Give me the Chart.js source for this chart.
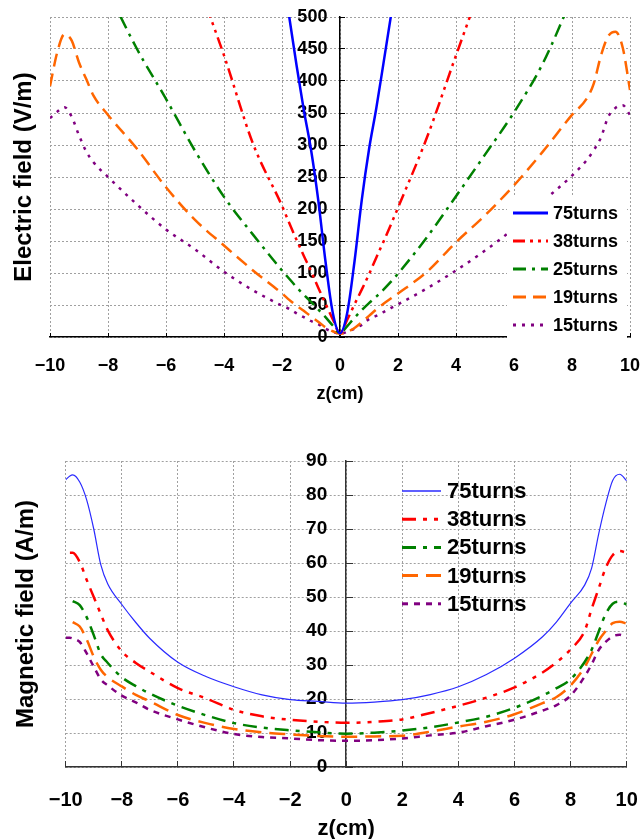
<!DOCTYPE html>
<html>
<head>
<meta charset="utf-8">
<script src="https://cdn.jsdelivr.net/npm/chart.js@4.4.1/dist/chart.umd.min.js"></script>
<style>
  body { margin: 0; background: #fff; overflow: hidden; }
  canvas { position: absolute; left: 0; }
  #eChart { top: 0; }
  #bChart { top: 418px; }
</style>
</head>
<body>
<canvas id="eChart" width="641" height="420"></canvas>
<canvas id="bChart" width="641" height="422"></canvas>
<script>
const seriesLabels = ['75turns', '38turns', '25turns', '19turns', '15turns'];

// electric field, z in cm
const zE = [-10, -9.75, -9.5, -9.25, -9, -8.75, -8.5, -8, -7, -6, -5, -4, -3, -2, -1.75, -1.5, -1.25, -1, -0.75, -0.5, -0.25,
  0, 0.25, 0.5, 0.75, 1, 1.25, 1.5, 1.75, 2, 3, 4, 5, 6, 7, 8, 8.5, 8.75, 9, 9.25, 9.5, 9.75, 10];
const e75 = [null, null, null, null, null, null, null, null, null, null, null, null, null, 572, 500, 425, 355, 293, 214, 118, 38,
  6, 38, 118, 214, 293, 357, 428, 500, 572, null, null, null, null, null, null, null, null, null, null, null, null, null];
const e38 = [null, null, null, null, null, null, null, null, null, null, 565, 440, 302, 205, 178, 152, 127, 103, 77, 52, 28,
  6, 27, 51, 74, 98, 124, 149, 175, 202, 312, 440, 566, null, null, null, null, null, null, null, null, null, null];
const e25 = [null, null, null, null, null, null, null, 540, 450, 372, 291, 219, 160, 104, 91, 78, 66, 55, 43, 31, 18,
  6, 17, 30, 42, 53, 63, 74, 86, 99, 156, 220, 285, 351, 428, 530, null, null, null, null, null, null, null];
const e19 = [392, 445, 473, 463, 429, 403, 377, 347, 294, 234, 183, 143, 104, 68, 58, 49, 41, 32, 24, 15, 9,
  5, 8, 14, 23, 33, 43, 52, 60, 68, 102, 148, 190, 237, 290, 347, 372, 396, 440, 470, 477, 452, 386];
const e15 = [342, 352, 359, 344, 315, 290, 273, 250, 207, 168, 137, 102, 73, 49, 44, 37, 31, 25, 20, 13, 8,
  5, 8, 13, 19, 28, 33, 39, 45, 51, 76, 104, 135, 170, 212, 252, 276, 292, 312, 344, 358, 362, 347];

// magnetic field, z in cm
const zB = [-10, -9.85, -9.75, -9.5, -9.25, -9, -8.75, -8.5, -8, -7.5, -7, -6, -5, -4, -3, -2, -1,
  0, 1, 2, 3, 4, 5, 6, 7, 7.5, 8, 8.5, 8.75, 9, 9.25, 9.5, 9.75, 10];
const b75 = [84.5, 85.6, 85.9, 83.8, 78.5, 70, 59.5, 53.8, 47.8, 42.5, 37.8, 30.8, 26.6, 23.6, 21.2, 19.8, 19.3,
  18.8, 19.1, 19.8, 21.3, 23.6, 27.2, 32.0, 38.3, 42.7, 48.2, 53.5, 58.5, 68.5, 77.3, 84.3, 86.1, 84.2];
const b38 = [null, 63, 63, 60.3, 55, 50, 45, 40.2, 34, 30.6, 28, 23.2, 20.2, 16.8, 14.9, 13.9, 13.3,
  13.0, 13.3, 14.0, 15.9, 18.0, 20.4, 23.4, 27.8, 30.8, 34.6, 40, 46.5, 52.5, 58.5, 62.3, 63.5, 63];
const b25 = [null, null, 48.8, 47.6, 44, 38.8, 33.2, 30.6, 26.4, 23.8, 21.6, 18.0, 15.2, 12.9, 11.6, 10.8, 10.2,
  9.8, 10.1, 10.7, 11.7, 13.1, 14.8, 17.4, 21.0, 23.2, 25.8, 30.9, 34.5, 39.8, 45, 48, 48.6, 47.8];
const b19 = [null, null, 42.6, 41.3, 37.5, 32.4, 28.6, 26.4, 23.7, 21.2, 19.3, 15.3, 12.9, 11.2, 10.2, 9.6, 9.1,
  8.9, 9.0, 9.2, 10.4, 11.9, 13.3, 15.5, 18.8, 20.6, 24.0, 29.4, 33.3, 37.2, 40.0, 42.3, 42.7, 42.2];
const b15 = [38, 38, 37.8, 36.8, 33.4, 29.5, 25.8, 24, 21, 19, 16.8, 14.0, 11.6, 9.7, 8.8, 8.4, 7.9,
  7.7, 7.9, 8.4, 9.3, 10.1, 12.0, 13.9, 16.6, 18.2, 21.0, 26.6, 30.2, 34.4, 36.8, 38.4, 38.9, 38];

const FONT = '"Liberation Sans", Arial, sans-serif';
const GRID = '#a0a0a0';

function pts(zs, vals) {
    return zs.map((z, i) => ({ x: z, y: vals[i] }));
}

function minusSign(value) {
    return String(value).replace('-', '\u2212');
}

// legend drawn over the plot with a white box, like the original
const boxLegend = {
    id: 'boxLegend',
    afterDraw(chart, args, opts) {
        const ctx = chart.ctx;
        ctx.save();
        ctx.fillStyle = '#fff';
        ctx.fillRect(opts.x, opts.y, opts.w, opts.h);
        ctx.font = 'bold ' + opts.size + 'px ' + FONT;
        ctx.textBaseline = 'middle';
        chart.data.datasets.forEach((ds, i) => {
            const y = opts.top + i * opts.gap;
            ctx.strokeStyle = ds.borderColor;
            ctx.lineWidth = ds.borderWidth + 0.5;
            ctx.setLineDash(ds.borderDash || []);
            ctx.beginPath();
            ctx.moveTo(opts.lineX, y);
            ctx.lineTo(opts.lineX + opts.lineW, y);
            ctx.stroke();
            ctx.setLineDash([]);
            ctx.fillStyle = '#000';
            ctx.fillText(ds.label, opts.textX, y + 1);
        });
        ctx.restore();
    }
};

function lineSet(label, data, color, width, dash) {
    return {
        label: label,
        data: data,
        borderColor: color,
        borderWidth: width,
        borderDash: dash,
        pointRadius: 0,
        fill: false,
        cubicInterpolationMode: 'monotone'
    };
}

function makeOptions(cfg) {
    return {
        responsive: false,
        animation: false,
        layout: { padding: cfg.padding },
        plugins: {
            legend: { display: false },
            tooltip: { enabled: false },
            boxLegend: cfg.legend
        },
        scales: {
            x: {
                type: 'linear',
                position: 'bottom',
                min: -10,
                max: 10,
                afterFit: function(scale) {
                    scale.paddingLeft = 0;
                    scale.paddingRight = 0;
                    scale.height = cfg.xAxisH;
                },
                ticks: {
                    stepSize: 2,
                    color: '#000',
                    padding: cfg.xTickPad,
                    font: { family: FONT, size: cfg.xTickSize, weight: 'bold' },
                    callback: minusSign
                },
                grid: { color: GRID, tickColor: cfg.axisColor, tickLength: cfg.xTickLen },
                border: { color: cfg.axisColor, width: 1.5, dash: [2, 2] },
                title: {
                    display: true,
                    text: 'z(cm)',
                    color: '#000',
                    font: { family: FONT, size: cfg.xTitleSize, weight: 'bold', lineHeight: cfg.xTitleLH },
                    padding: { top: 0, bottom: cfg.xTitlePadB }
                }
            },
            y: {
                type: 'linear',
                position: { x: 0 },
                min: 0,
                max: cfg.yMax,
                afterFit: function(scale) {
                    scale.paddingTop = 0;
                    scale.paddingBottom = 0;
                },
                ticks: {
                    stepSize: cfg.yStep,
                    color: '#000',
                    font: { family: FONT, size: cfg.yTickSize, weight: 'bold' },
                    callback: function(value) {
                        return value + cfg.yGap;   // keeps the label clear of the axis line
                    }
                },
                grid: { color: GRID, tickColor: cfg.axisColor, tickLength: cfg.yTickLen },
                border: { color: cfg.axisColor, width: 1.5, dash: [2, 2] }
            },
            yt: {
                axis: 'y',
                type: 'linear',
                position: 'left',
                ticks: { display: false },
                grid: { display: false, drawTicks: false },
                border: { display: false },
                title: {
                    display: true,
                    text: cfg.yTitle,
                    color: '#000',
                    font: { family: FONT, size: 24, weight: 'bold' },
                    padding: cfg.yTitlePad
                }
            }
        }
    };
}

new Chart(document.getElementById('eChart'), {
    type: 'line',
    data: {
        datasets: [
            lineSet(seriesLabels[0], pts(zE, e75), '#0000ff', 2.5, []),
            lineSet(seriesLabels[1], pts(zE, e38), '#ff0000', 2.5, [12, 5, 3, 5, 3, 5]),
            lineSet(seriesLabels[2], pts(zE, e25), '#008000', 2.5, [13, 6, 3, 6]),
            lineSet(seriesLabels[3], pts(zE, e19), '#ff6600', 2.5, [13, 7]),
            lineSet(seriesLabels[4], pts(zE, e15), '#800080', 2.5, [3, 6])
        ]
    },
    options: makeOptions({
        padding: { top: 17, right: 11, bottom: 0, left: 0 },
        yMax: 500, yStep: 50,
        axisColor: '#000',
        xAxisH: 83,
        xTickPad: 22.2, xTickSize: 18, xTickLen: -4,
        xTitleSize: 18, xTitleLH: 1.2, xTitlePadB: 15.2,
        yTickSize: 18, yTickLen: -6, yGap: '\u2002\u2009',
        yTitle: 'Electric field (V/m)',
        yTitlePad: { top: 9.6, bottom: 11.6 },
        legend: { x: 507, y: 195, w: 120, h: 145, top: 213, gap: 28, lineX: 513, lineW: 35, textX: 553, size: 18 }
    }),
    plugins: [boxLegend]
});

new Chart(document.getElementById('bChart'), {
    type: 'line',
    data: {
        datasets: [
            lineSet(seriesLabels[0], pts(zB, b75), '#2a2aff', 1.2, []),
            lineSet(seriesLabels[1], pts(zB, b38), '#ff0000', 2.5, [14, 7, 4, 7, 4, 7]),
            lineSet(seriesLabels[2], pts(zB, b25), '#008000', 2.5, [14, 7, 4, 7]),
            lineSet(seriesLabels[3], pts(zB, b19), '#ff6600', 2.5, [16, 8]),
            lineSet(seriesLabels[4], pts(zB, b15), '#800080', 2.5, [6, 6])
        ]
    },
    options: makeOptions({
        padding: { top: 43, right: 14.3, bottom: 0, left: 0 },
        yMax: 90, yStep: 10,
        axisColor: '#333',
        xAxisH: 73,
        xTickPad: 27, xTickSize: 20, xTickLen: -6,
        xTitleSize: 22, xTitleLH: 1.0, xTitlePadB: 0,
        yTickSize: 19, yTickLen: -8, yGap: '\u2002\u2002',
        yTitle: 'Magnetic field (A/m)',
        yTitlePad: { top: 11.9, bottom: 25 },
        legend: { x: 398, y: 475, w: 130, h: 143, top: 73, gap: 28.2, lineX: 402, lineW: 39, textX: 447, size: 22 }
    }),
    plugins: [boxLegend]
});
</script>
</body>
</html>
